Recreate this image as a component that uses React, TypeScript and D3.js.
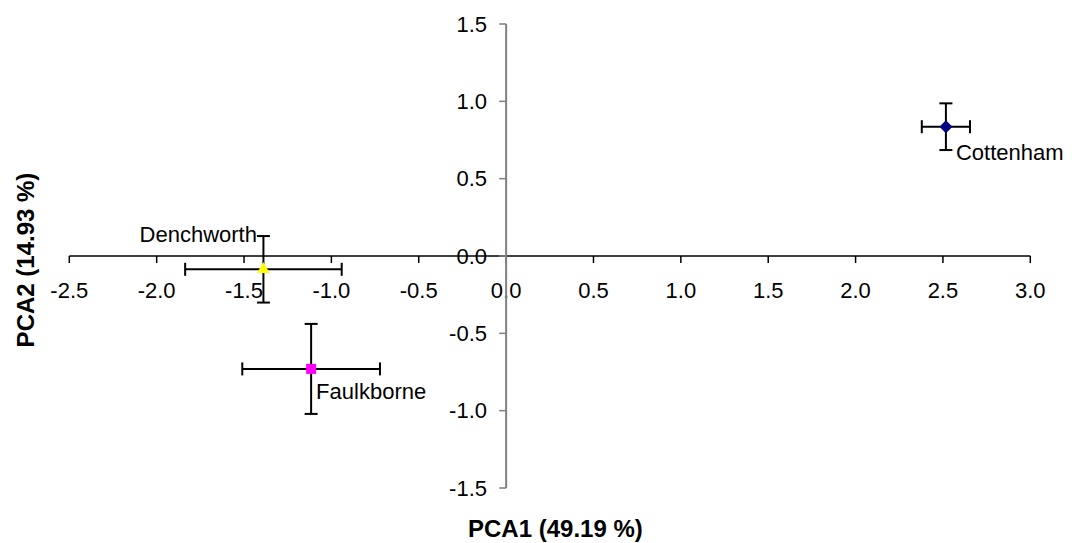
import React from "react";
import * as d3 from "d3";

const xTicks = [-2.5, -2.0, -1.5, -1.0, -0.5, 0.0, 0.5, 1.0, 1.5, 2.0, 2.5, 3.0];
const yTicks = [-1.5, -1.0, -0.5, 0.0, 0.5, 1.0, 1.5];

const sites = ["Cottenham", "Denchworth", "Faulkborne"];
const pca1 = [2.517, -1.389, -1.116];
const pca2 = [0.836, -0.086, -0.73];
const err1 = [0.138, 0.448, 0.394];
const err2 = [0.151, 0.215, 0.291];
const colors = ["#000080", "#ffff00", "#ff00ff"];
const shapes = ["diamond", "triangle", "square"];

const W = 1072;
const H = 543;
const FONT = "'Liberation Sans', Arial, sans-serif";

export default function App() {
  const x = d3.scaleLinear().domain([-2.5, 3.0]).range([69.3, 1030.3]);
  const y = d3.scaleLinear().domain([-1.5, 1.5]).range([488, 24]);
  const x0 = x(0);
  const y0 = y(0);
  const cap = 6.5;

  const symbolPath = (shape: string) => {
    if (shape === "diamond") return d3.symbol().type(d3.symbolDiamond2).size(110)();
    if (shape === "triangle") return d3.symbol().type(d3.symbolTriangle).size(70)();
    return d3.symbol().type(d3.symbolSquare).size(100)();
  };

  const labelPos = [
    { dx: 10, dy: 33.5, anchor: "start" },
    { dx: -6.5, dy: -27.5, anchor: "end" },
    { dx: 5, dy: 30, anchor: "start" },
  ];

  return (
    <svg
      width={W}
      height={H}
      style={{ position: "absolute", left: 0, top: 0, background: "#fff" }}
      fontFamily={FONT}
    >
      {/* x axis */}
      <line x1={x(-2.5)} x2={x(3.0)} y1={y0} y2={y0} stroke="#000" strokeWidth={1.5} />
      {xTicks.map((t) => (
        <g key={"xt" + t}>
          <line x1={x(t)} x2={x(t)} y1={y0} y2={y0 + 7} stroke="#000" strokeWidth={1.5} />
          <text x={x(t)} y={298} textAnchor="middle" fontSize={22} fill="#000">
            {t.toFixed(1)}
          </text>
        </g>
      ))}
      {/* y axis */}
      <line x1={x0} x2={x0} y1={y(1.5)} y2={y(-1.5)} stroke="#808080" strokeWidth={2} />
      {yTicks.map((t) => (
        <g key={"yt" + t}>
          <line x1={x0 - 7} x2={x0} y1={y(t)} y2={y(t)} stroke="#808080" strokeWidth={1.5} />
          <text x={487} y={y(t) + 7.8} textAnchor="end" fontSize={22} fill="#000">
            {t.toFixed(1)}
          </text>
        </g>
      ))}
      {/* titles */}
      <text x={468} y={537} textAnchor="start" fontSize={24} fontWeight="bold" fill="#000">
        PCA1 (49.19 %)
      </text>
      <text
        transform={`translate(33.5,260) rotate(-90)`}
        textAnchor="middle"
        fontSize={24}
        fontWeight="bold"
        fill="#000"
      >
        PCA2 (14.93 %)
      </text>
      {/* points with error bars */}
      {sites.map((s, i) => {
        const cx = x(pca1[i]);
        const cy = y(pca2[i]);
        const xl = x(pca1[i] - err1[i]);
        const xr = x(pca1[i] + err1[i]);
        const yt = y(pca2[i] + err2[i]);
        const yb = y(pca2[i] - err2[i]);
        const lp = labelPos[i];
        return (
          <g key={s}>
            <g stroke="#000" strokeWidth={2}>
              <line x1={xl} x2={xr} y1={cy} y2={cy} />
              <line x1={xl} x2={xl} y1={cy - cap} y2={cy + cap} />
              <line x1={xr} x2={xr} y1={cy - cap} y2={cy + cap} />
              <line x1={cx} x2={cx} y1={yt} y2={yb} />
              <line x1={cx - cap} x2={cx + cap} y1={yt} y2={yt} />
              <line x1={cx - cap} x2={cx + cap} y1={yb} y2={yb} />
            </g>
            <path
              d={symbolPath(shapes[i]) || ""}
              transform={`translate(${cx},${cy})`}
              fill={colors[i]}
            />
            <text
              x={cx + lp.dx}
              y={cy + lp.dy}
              textAnchor={lp.anchor}
              fontSize={22}
              fill="#000"
            >
              {s}
            </text>
          </g>
        );
      })}
    </svg>
  );
}
